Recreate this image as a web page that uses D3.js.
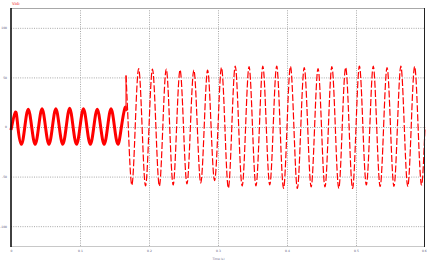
<!DOCTYPE html>
<html>
<head>
<meta charset="utf-8">
<script src="https://cdn.jsdelivr.net/npm/d3@7/dist/d3.min.js"></script>
<style>
  html, body { margin: 0; padding: 0; background: #fff; }
  svg { display: block; }
</style>
</head>
<body>
<svg id="chart" width="427" height="260"></svg>
<script>
// ---- data ----
const title = "Vab";
const xLabel = "Time (s)";
const xTicks = [0, 0.1, 0.2, 0.3, 0.4, 0.5, 0.6];
const xTickLabels = ["0", "0.1", "0.2", "0.3", "0.4", "0.5", "0.6"];
const yTicks = [100, 50, 0, -50, -100];
const yTickLabels = ["100", "50", "0", "-50", "-100"];

// before the step (small amplitude)
const tSmall = [0, 0.0065, 0.010, 0.015, 0.020, 0.025, 0.030, 0.035, 0.040, 0.045,
  0.050, 0.055, 0.060, 0.065, 0.070, 0.075, 0.080, 0.085, 0.090, 0.095,
  0.100, 0.105, 0.110, 0.115, 0.120, 0.125, 0.130, 0.135, 0.140, 0.145,
  0.150, 0.155, 0.160, 0.165, 0.1667];
const vSmall = [-3, 15, 0, -17.5, 0, 18, 0, -17.5, 0, 18.5,
  0, -17.5, 0, 18.5, 0, -17.5, 0, 19, 0, -17.5,
  0, 18.5, 0, -17.5, 0, 18, 0, -17.5, 0, 18.5,
  0, -17.5, 0, 19, 16];

// after the step (large amplitude)
const tLarge = [0.1667, 0.170, 0.175, 0.180, 0.185, 0.190, 0.195, 0.200, 0.205, 0.210,
  0.215, 0.220, 0.225, 0.230, 0.235, 0.240, 0.245, 0.250, 0.255, 0.260,
  0.265, 0.270, 0.275, 0.280, 0.285, 0.290, 0.295, 0.300, 0.305, 0.310,
  0.315, 0.320, 0.325, 0.330, 0.335, 0.340, 0.345, 0.350, 0.355, 0.360,
  0.365, 0.370, 0.375, 0.380, 0.385, 0.390, 0.395, 0.400, 0.405, 0.410,
  0.415, 0.420, 0.425, 0.430, 0.435, 0.440, 0.445, 0.450, 0.455, 0.460,
  0.465, 0.470, 0.475, 0.480, 0.485, 0.490, 0.495, 0.500, 0.505, 0.510,
  0.515, 0.520, 0.525, 0.530, 0.535, 0.540, 0.545, 0.550, 0.555, 0.560,
  0.565, 0.570, 0.575, 0.580, 0.585, 0.590, 0.595, 0.600];
const vLarge = [52, 0, -58.5, 0, 59, 0, -59.5, 0, 58.5, 0,
  -59.5, 0, 58.5, 0, -58.5, 0, 57.5, 0, -57.5, 0,
  57.5, 0, -56.5, 0, 57.5, 0, -54, 0, 60, 0,
  -61.5, 0, 61.5, 0, -59.5, 0, 61, 0, -59.5, 0,
  61.5, 0, -58.5, 0, 61.5, 0, -62, 0, 61, 0,
  -62, 0, 60, 0, -60.5, 0, 59, 0, -60.5, 0,
  61, 0, -62, 0, 60, 0, -62, 0, 61.5, 0,
  -58.5, 0, 61.5, 0, -60, 0, 60, 0, -60, 0,
  61.5, 0, -60, 0, 61, 0, -58.5, 0];

// ---- layout ----
const W = 427, H = 260;
const mLeft = 11, mRight = 425, mTop = 8, mBottom = 246;

const x = d3.scaleLinear().domain([0, 0.6]).range([mLeft, mRight]);
const y = d3.scaleLinear().domain([-120, 120]).range([mBottom, mTop]);

const svg = d3.select("#chart");
svg.append("rect").attr("width", W).attr("height", H).attr("fill", "#fff");

// gridlines
const gridX = svg.append("g").attr("transform", `translate(0,${mTop})`)
  .call(d3.axisBottom(x).tickValues(xTicks.slice(1, -1)).tickSize(mBottom - mTop).tickFormat(""));
gridX.select(".domain").remove();
gridX.selectAll("line").attr("stroke", "#a8a8a8").attr("stroke-dasharray", "1,1.3");

const gridY = svg.append("g").attr("transform", `translate(${mLeft},0)`)
  .call(d3.axisRight(y).tickValues(yTicks).tickSize(mRight - mLeft).tickFormat(""));
gridY.select(".domain").remove();
gridY.selectAll("line").attr("stroke", "#a8a8a8").attr("stroke-dasharray", "1,1.3");

// frame: top and bottom gray
svg.append("line").attr("x1", mLeft).attr("x2", mRight).attr("y1", mTop + 0.5).attr("y2", mTop + 0.5)
  .attr("stroke", "#a8a8a8").attr("stroke-width", 1);
svg.append("line").attr("x1", mLeft).attr("x2", mRight).attr("y1", mBottom + 0.5).attr("y2", mBottom + 0.5)
  .attr("stroke", "#c8c8c8").attr("stroke-width", 1);

// waveform
const line = d3.line().x((d) => x(d[0])).y((d) => y(d[1])).curve(d3.curveNatural);
const smallPts = tSmall.map((t, i) => [t, vSmall[i]]);
const largePts = tLarge.map((t, i) => [t, vLarge[i]]);

const wave = svg.append("g");
wave.append("path").attr("d", line(smallPts)).attr("fill", "none")
  .attr("stroke", "#ff0000").attr("stroke-width", 3).attr("stroke-linejoin", "round");
wave.append("path")
  .attr("d", d3.line().x((d) => x(d[0])).y((d) => y(d[1]))([smallPts[smallPts.length - 1], largePts[0]]))
  .attr("fill", "none").attr("stroke", "#ff2020").attr("stroke-width", 1.2);
wave.append("path").attr("d", line(largePts)).attr("fill", "none")
  .attr("stroke", "#ff0000").attr("stroke-width", 1.2).attr("stroke-dasharray", "7,2.2");

// left and right black borders
svg.append("line").attr("x1", mLeft).attr("x2", mLeft).attr("y1", mTop).attr("y2", mBottom + 1)
  .attr("stroke", "#111").attr("stroke-width", 1.6);
svg.append("line").attr("x1", mRight - 0.5).attr("x2", mRight - 0.5).attr("y1", mTop).attr("y2", mBottom + 1)
  .attr("stroke", "#222").attr("stroke-width", 1);

// tick labels
const yAx = svg.append("g").attr("transform", `translate(${mLeft},0)`)
  .call(d3.axisLeft(y).tickValues(yTicks).tickSize(0).tickPadding(4)
    .tickFormat((d, i) => yTickLabels[i]));
yAx.select(".domain").remove();
yAx.selectAll("text").attr("font-family", "DejaVu Sans").attr("font-size", 3).attr("fill", "#5a5a78");

const xAx = svg.append("g").attr("transform", `translate(0,${mBottom})`)
  .call(d3.axisBottom(x).tickValues(xTicks).tickSize(0).tickPadding(4)
    .tickFormat((d, i) => xTickLabels[i]));
xAx.select(".domain").remove();
xAx.selectAll("text").attr("font-family", "DejaVu Sans").attr("font-size", 3).attr("fill", "#5a5a78");
xAx.selectAll("text").filter((d, i) => i === xTicks.length - 1).attr("text-anchor", "end").attr("dx", "1.2");

// titles
svg.append("text").attr("x", mLeft + 1).attr("y", 4.5).text(title)
  .attr("font-family", "DejaVu Sans").attr("font-size", 4).attr("fill", "#f04040");
svg.append("text").attr("x", (mLeft + mRight) / 2 + 0.5).attr("y", 259.5).attr("text-anchor", "middle").text(xLabel)
  .attr("font-family", "DejaVu Sans").attr("font-size", 3).attr("fill", "#6a6a8a");
</script>
</body>
</html>
